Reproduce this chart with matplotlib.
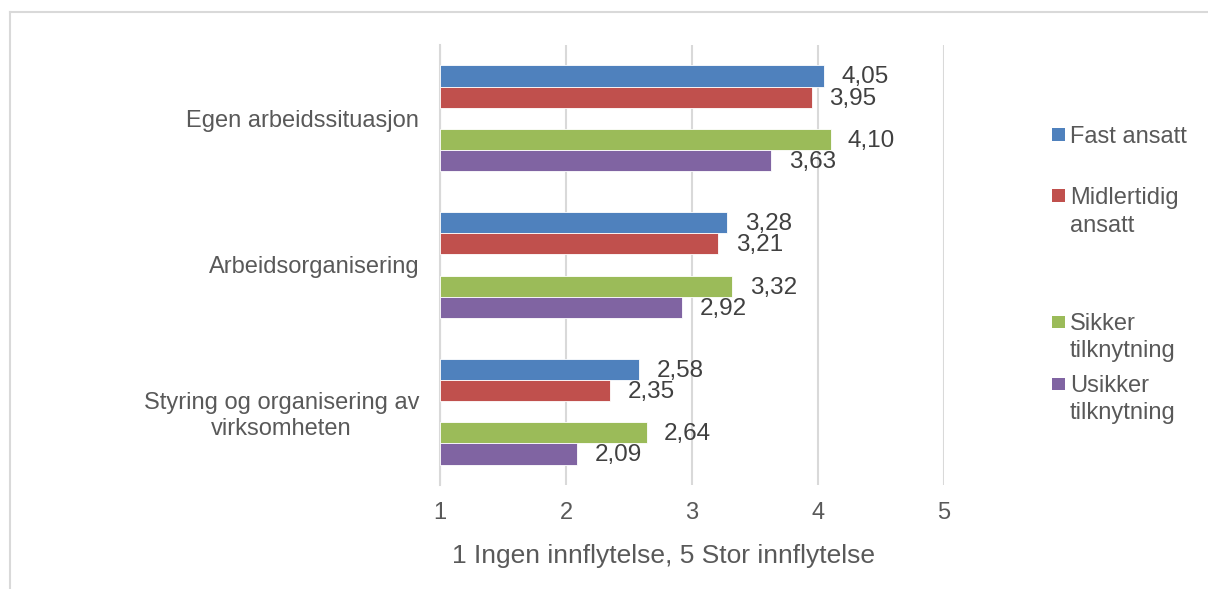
import matplotlib
matplotlib.use("Agg")
import numpy as np
import matplotlib.pyplot as plt
from matplotlib.lines import Line2D
from matplotlib.patches import Rectangle

categories = ["Egen arbeidssituasjon", "Arbeidsorganisering",
              "Styring og organisering av\nvirksomheten"]
series_names = ["Fast ansatt", "Midlertidig\nansatt", "Sikker\ntilknytning", "Usikker\ntilknytning"]
fast_ansatt = [4.05, 3.28, 2.58]
midlertidig_ansatt = [3.95, 3.21, 2.35]
sikker_tilknytning = [4.10, 3.32, 2.64]
usikker_tilknytning = [3.63, 2.92, 2.09]
x_ticks = [1, 2, 3, 4, 5]
x_label = "1 Ingen innflytelse, 5 Stor innflytelse"

colors = ["#4F81BD", "#C0504D", "#9BBB59", "#8064A2"]
text_gray = "#595959"
grid_gray = "#D9D9D9"

plt.rcParams["font.family"] = ["Liberation Sans", "DejaVu Sans"]

fig = plt.figure(figsize=(12.08, 5.89), dpi=100)
W, H = 1208, 589
ax = fig.add_axes([440 / W, 1 - 485 / H, (944 - 440) / W, (485 - 45) / H])

# five slots per category, the middle one is empty (Excel blank series)
h = 0.1446
offsets = [-2, -1, 1, 2]
y = np.arange(len(categories))
all_series = [fast_ansatt, midlertidig_ansatt, sikker_tilknytning, usikker_tilknytning]

for vals, off, col in zip(all_series, offsets, colors):
    vals = np.array(vals)
    bars = ax.barh(y + off * h, vals - 1, left=1, height=h, color=col,
                   edgecolor="white", linewidth=0.6, zorder=3)
    for bar, v in zip(bars, vals):
        ax.annotate(f"{v:.2f}".replace(".", ","),
                    xy=(v, bar.get_y() + bar.get_height() / 2),
                    xytext=(12.5, -1), textcoords="offset points",
                    ha="left", va="center", fontsize=17.5, color="#404040",
                    zorder=4)

ax.set_xlim(1, 5)
ax.set_ylim(2.5, -0.5)
ax.set_xticks(x_ticks)
ax.set_xticklabels([str(t) for t in x_ticks])
ax.set_yticks(y)
ax.set_yticklabels(categories, multialignment="center")
ax.tick_params(axis="x", length=0, pad=12, labelsize=17, labelcolor=text_gray)
ax.tick_params(axis="y", length=0, pad=15, labelsize=17, labelcolor=text_gray)
ax.grid(axis="x", color=grid_gray, linewidth=1.5, zorder=0)
for s in ["top", "right", "bottom"]:
    ax.spines[s].set_visible(False)
ax.spines["left"].set_color(grid_gray)
ax.spines["left"].set_linewidth(1.5)
ax.spines["left"].set_zorder(1)

fig.text(664 / W, 1 - 556 / H, x_label, ha="center", va="center",
         fontsize=19, color=text_gray)

# legend drawn by hand to keep Excel's uneven spacing
legend_baselines = [143, 204, 330, 392]
for name, col, base in zip(series_names, colors, legend_baselines):
    fig.patches.append(Rectangle((1052 / W, 1 - (base - 2) / H), 12.5 / W, 12.5 / H,
                                 transform=fig.transFigure, facecolor=col,
                                 edgecolor="none"))
    for i, line in enumerate(name.split("\n")):
        fig.text(1070 / W, 1 - (base + i * 27.5) / H, line, ha="left",
                 va="baseline", fontsize=17, color=text_gray)

# chart frame (top and left edges visible)
fig.add_artist(Line2D([10 / W, 1], [1 - 12 / H, 1 - 12 / H], transform=fig.transFigure,
                      color=grid_gray, linewidth=1.5))
fig.add_artist(Line2D([10 / W, 10 / W], [0, 1 - 12 / H], transform=fig.transFigure,
                      color=grid_gray, linewidth=1.5))

fig.savefig("out.png", dpi=100, facecolor="white")
